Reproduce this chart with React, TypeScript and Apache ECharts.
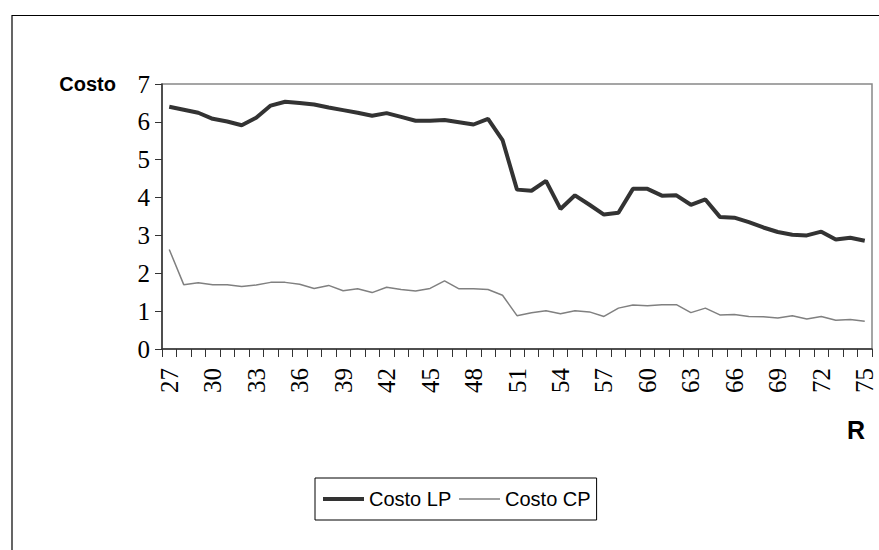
import React, { useEffect, useRef } from "react";
import * as echarts from "echarts";

const categories = [
  "27", "28", "29", "30", "31", "32", "33", "34", "35", "36", "37", "38", "39", "40", "41", "42", "43",
  "44", "45", "46", "47", "48", "49", "50", "51", "52", "53", "54", "55", "56", "57", "58", "59", "60",
  "61", "62", "63", "64", "65", "66", "67", "68", "69", "70", "71", "72", "73", "74", "75",
];

const costoLP = [
  6.4, 6.32, 6.24, 6.08, 6.01, 5.91, 6.11, 6.43, 6.53, 6.5, 6.46, 6.38, 6.31, 6.24, 6.16, 6.23, 6.13,
  6.03, 6.03, 6.05, 5.99, 5.93, 6.08, 5.52, 4.21, 4.18, 4.44, 3.7, 4.06, 3.81, 3.55, 3.6, 4.23, 4.23,
  4.05, 4.06, 3.81, 3.95, 3.49, 3.47, 3.35, 3.21, 3.09, 3.02, 3.0, 3.1, 2.89, 2.94, 2.86,
];

const costoCP = [
  2.63, 1.7, 1.75, 1.7, 1.7, 1.65, 1.69, 1.76, 1.76, 1.71, 1.6, 1.68, 1.54, 1.59, 1.49, 1.63, 1.57,
  1.53, 1.6, 1.8, 1.59, 1.59, 1.57, 1.42, 0.88, 0.96, 1.01, 0.93, 1.01, 0.98, 0.86, 1.08, 1.16, 1.14,
  1.17, 1.17, 0.96, 1.08, 0.9, 0.91, 0.86, 0.85, 0.82, 0.88, 0.79, 0.86, 0.76, 0.78, 0.73,
];

const seriesNames = ["Costo LP", "Costo CP"];

const SERIF = "'Liberation Serif', 'Times New Roman', serif";
const SANS = "'Liberation Sans', Arial, sans-serif";

export default function App() {
  const ref = useRef<HTMLDivElement>(null);

  useEffect(() => {
    if (!ref.current) return;
    const chart = echarts.init(ref.current, undefined, { renderer: "svg" });
    chart.setOption({
      animation: false,
      backgroundColor: "#ffffff",
      grid: {
        left: 162,
        right: 7,
        top: 84,
        bottom: 201,
        show: true,
        borderColor: "#888888",
        borderWidth: 1.5,
        backgroundColor: "transparent",
      },
      legend: {
        data: [
          { name: seriesNames[0], lineStyle: { width: 4, color: "#333333" } },
          { name: seriesNames[1], lineStyle: { width: 1.5, color: "#808080" } },
        ],
        left: 315,
        top: 478,
        orient: "horizontal",
        itemWidth: 41,
        itemHeight: 14,
        itemGap: 7,
        padding: [11, 6, 11, 6],
        borderColor: "#000000",
        borderWidth: 1,
        itemStyle: { opacity: 0 },
        textStyle: { fontFamily: SANS, fontSize: 20, color: "#000000" },
      },
      xAxis: {
        type: "category",
        data: categories,
        boundaryGap: true,
        name: "R",
        nameLocation: "end",
        nameGap: -16,
        nameTextStyle: {
          fontFamily: SANS,
          fontWeight: "bold",
          fontSize: 25,
          color: "#000000",
          align: "center",
          verticalAlign: "top",
          padding: [68, 0, 0, 0],
        },
        axisLine: { show: true, lineStyle: { color: "#333333", width: 1.5 } },
        axisTick: { show: true, interval: 0, length: 8, lineStyle: { color: "#333333", width: 1 } },
        axisLabel: {
          interval: 2,
          rotate: 90,
          margin: 19,
          fontFamily: SERIF,
          fontSize: 25,
          color: "#000000",
        },
        splitLine: { show: false },
      },
      yAxis: {
        type: "value",
        min: 0,
        max: 7,
        interval: 1,
        name: "Costo",
        nameLocation: "end",
        nameGap: 0,
        nameTextStyle: {
          fontFamily: SANS,
          fontWeight: "bold",
          fontSize: 20,
          color: "#000000",
          align: "right",
          verticalAlign: "middle",
          padding: [0, 46, 0, 0],
        },
        axisLine: { show: true, lineStyle: { color: "#333333", width: 1.5 } },
        axisTick: { show: true, length: 7, lineStyle: { color: "#333333", width: 1 } },
        axisLabel: { margin: 12, fontFamily: SERIF, fontSize: 25, color: "#000000" },
        splitLine: { show: false },
      },
      graphic: [
        {
          type: "polyline",
          shape: { points: [[12, 550], [12, 15.5], [879, 15.5]] },
          style: { stroke: "#000000", lineWidth: 1.2, fill: "none" },
          silent: true,
        },
      ],
      series: [
        {
          name: seriesNames[0],
          type: "line",
          data: costoLP,
          symbol: "none",
          lineStyle: { color: "#333333", width: 4 },
          itemStyle: { color: "#333333" },
          z: 3,
        },
        {
          name: seriesNames[1],
          type: "line",
          data: costoCP,
          symbol: "none",
          lineStyle: { color: "#808080", width: 1.5 },
          itemStyle: { color: "#808080" },
          z: 2,
        },
      ],
    });
    return () => chart.dispose();
  }, []);

  return (
    <div
      ref={ref}
      style={{ position: "fixed", left: 0, top: 0, width: 879, height: 550, background: "#fff" }}
    />
  );
}
